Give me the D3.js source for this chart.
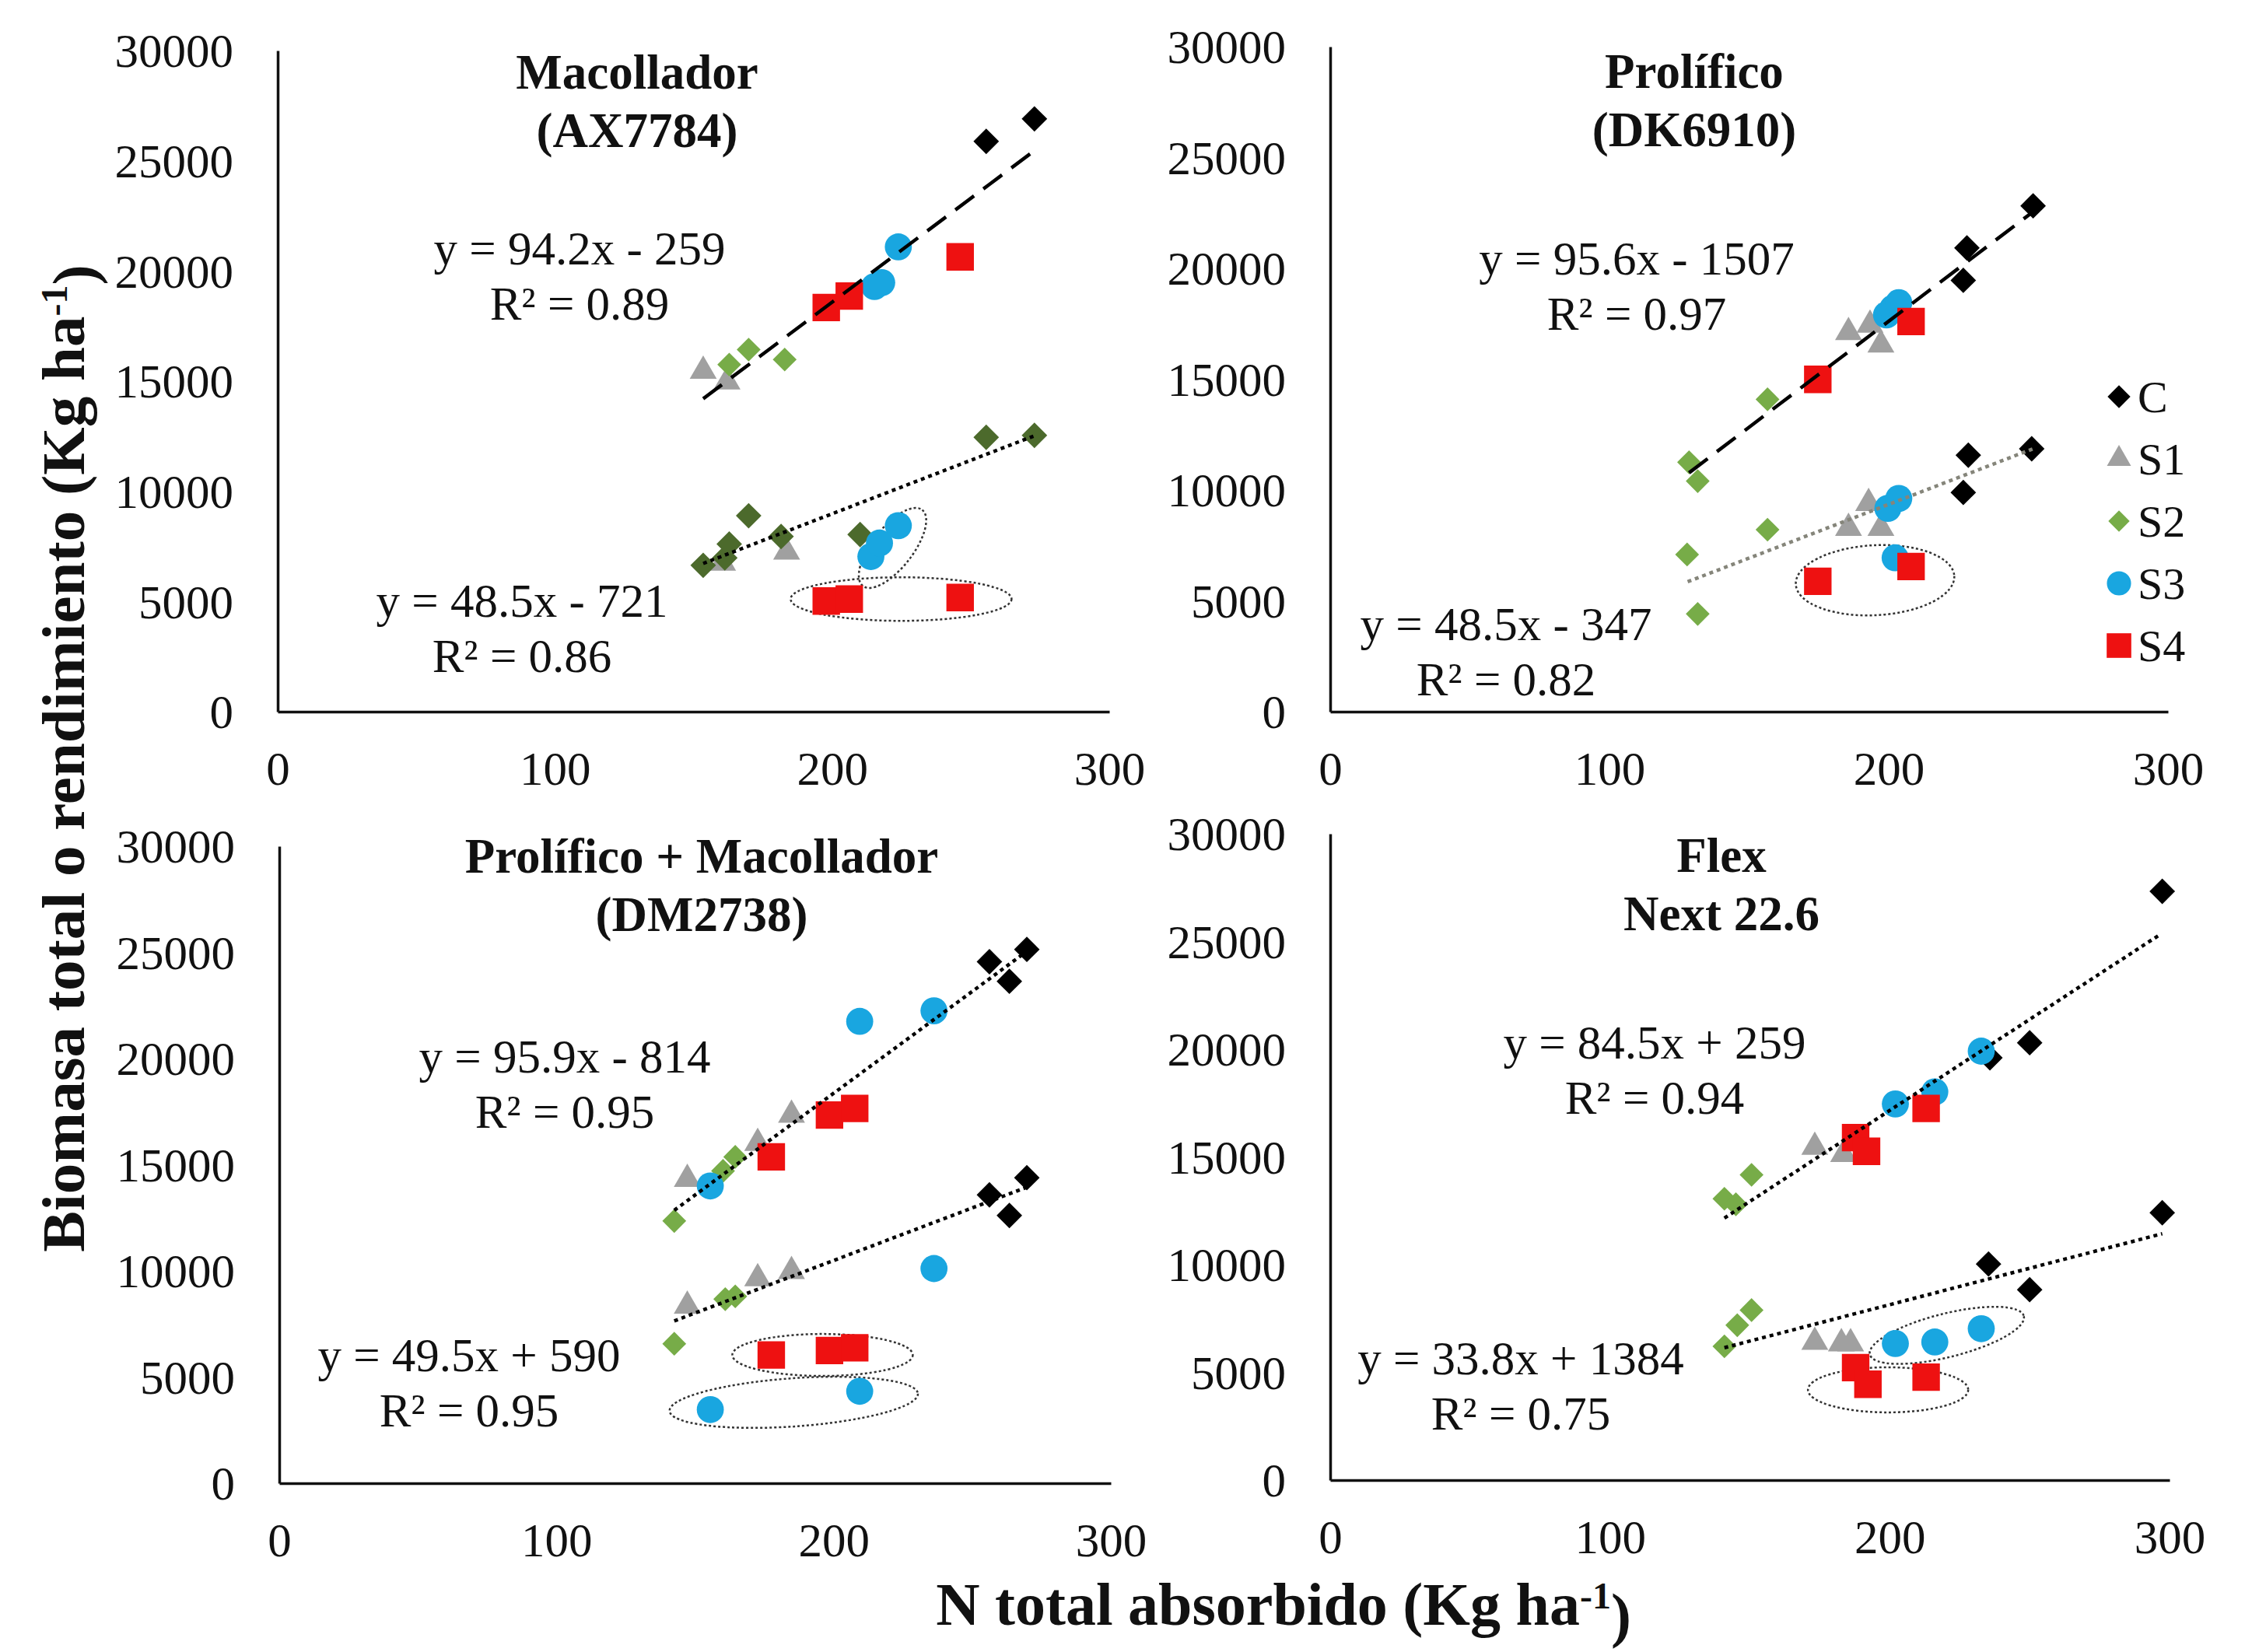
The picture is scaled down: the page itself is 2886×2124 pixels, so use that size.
<!DOCTYPE html>
<html>
<head>
<meta charset="utf-8">
<script src="https://cdn.jsdelivr.net/npm/d3@7"></script>
<style>
  body { margin: 0; background: #fff; }
  text { font-family: "Liberation Serif", "Times New Roman", serif; fill: #111; }
</style>
</head>
<body>
<svg id="fig"></svg>
<script>
// ---- data ----
const xTicks = [0, 100, 200, 300];
const yTicks = [0, 5000, 10000, 15000, 20000, 25000, 30000];
const legendKeys = ["C", "S1", "S2", "S3", "S4"];

const titles = [
  ["Macollador", "(AX7784)"],
  ["Prolífico", "(DK6910)"],
  ["Prolífico + Macollador", "(DM2738)"],
  ["Flex", "Next 22.6"]
];

// upper cloud = biomasa total, lower cloud = rendimiento
const macolladorBiomasa = [
  {s:"S1", x:153.5, y:15460}, {s:"S1", x:162.1, y:14970},
  {s:"S2", x:162.9, y:15750}, {s:"S2", x:169.9, y:16430}, {s:"S2", x:182.9, y:15980},
  {s:"S3", x:215.3, y:19290}, {s:"S3", x:217.9, y:19470}, {s:"S3", x:223.9, y:21090},
  {s:"S4", x:197.9, y:18340}, {s:"S4", x:206.2, y:18860}, {s:"S4", x:246.2, y:20640},
  {s:"C", x:255.6, y:25880}, {s:"C", x:273.0, y:26900}
];
const macolladorRend = [
  {s:"S1", x:160.5, y:6750}, {s:"S1", x:183.6, y:7250},
  {s:"D", x:153.5, y:6640}, {s:"D", x:161.3, y:6980}, {s:"D", x:162.9, y:7610},
  {s:"D", x:169.9, y:8890}, {s:"D", x:181.6, y:7950}, {s:"D", x:210.1, y:8040},
  {s:"D", x:255.6, y:12450}, {s:"D", x:273.0, y:12540},
  {s:"S3", x:214.0, y:7040}, {s:"S3", x:217.1, y:7650}, {s:"S3", x:223.9, y:8440},
  {s:"S4", x:197.9, y:5020}, {s:"S4", x:206.2, y:5110}, {s:"S4", x:246.2, y:5180}
];
const prolificoBiomasa = [
  {s:"C", x:251.7, y:22820}, {s:"C", x:228.0, y:20920}, {s:"C", x:226.7, y:19460},
  {s:"S1", x:185.6, y:17110}, {s:"S1", x:193.3, y:17450}, {s:"S1", x:197.2, y:16550},
  {s:"S2", x:156.6, y:14090}, {s:"S2", x:128.5, y:11250}, {s:"S2", x:131.6, y:10400},
  {s:"S3", x:199.2, y:17900}, {s:"S3", x:201.5, y:18200}, {s:"S3", x:203.6, y:18450},
  {s:"S4", x:208.0, y:17600}, {s:"S4", x:174.6, y:14990}
];
const prolificoRend = [
  {s:"C", x:228.5, y:11570}, {s:"C", x:251.2, y:11860}, {s:"C", x:226.7, y:9890},
  {s:"S1", x:185.6, y:8280}, {s:"S1", x:192.8, y:9400}, {s:"S1", x:197.2, y:8280},
  {s:"S2", x:127.8, y:7090}, {s:"S2", x:156.6, y:8210}, {s:"S2", x:131.6, y:4410},
  {s:"S3", x:199.7, y:9170}, {s:"S3", x:203.6, y:9620}, {s:"S3", x:202.3, y:6940},
  {s:"S4", x:174.6, y:5880}, {s:"S4", x:208.0, y:6550}
];
const mixtoBiomasa = [
  {s:"C", x:256.2, y:24560}, {s:"C", x:269.7, y:25140}, {s:"C", x:263.4, y:23640},
  {s:"S1", x:147.2, y:14320}, {s:"S1", x:172.6, y:16020}, {s:"S1", x:184.8, y:17340},
  {s:"S2", x:142.5, y:12350}, {s:"S2", x:160.1, y:14710}, {s:"S2", x:164.5, y:15370},
  {s:"S3", x:155.5, y:14000}, {s:"S3", x:209.4, y:21750}, {s:"S3", x:236.2, y:22250},
  {s:"S4", x:177.5, y:15370}, {s:"S4", x:198.5, y:17340}, {s:"S4", x:207.6, y:17650}
];
const mixtoRend = [
  {s:"C", x:256.2, y:13580}, {s:"C", x:269.7, y:14390}, {s:"C", x:263.4, y:12610},
  {s:"S1", x:147.2, y:8350}, {s:"S1", x:172.6, y:9640}, {s:"S1", x:184.8, y:9980},
  {s:"S2", x:142.5, y:6570}, {s:"S2", x:160.9, y:8670}, {s:"S2", x:164.5, y:8800},
  {s:"S3", x:155.5, y:3470}, {s:"S3", x:209.4, y:4330}, {s:"S3", x:236.2, y:10110},
  {s:"S4", x:177.5, y:6040}, {s:"S4", x:198.5, y:6250}, {s:"S4", x:207.6, y:6380}
];
const flexBiomasa = [
  {s:"C", x:297.4, y:27330}, {s:"C", x:250.0, y:20300}, {s:"C", x:235.8, y:19600},
  {s:"S1", x:173.2, y:15460}, {s:"S1", x:183.5, y:15130},
  {s:"S2", x:150.6, y:14170}, {s:"S2", x:140.9, y:13060}, {s:"S2", x:145.0, y:12800},
  {s:"S3", x:202.0, y:17460}, {s:"S3", x:216.1, y:18020}, {s:"S3", x:232.7, y:19910},
  {s:"S4", x:187.8, y:15900}, {s:"S4", x:191.7, y:15260}, {s:"S4", x:213.0, y:17250}
];
const flexRend = [
  {s:"C", x:297.4, y:12410}, {s:"C", x:235.3, y:10030}, {s:"C", x:250.0, y:8840},
  {s:"S1", x:173.2, y:6410}, {s:"S1", x:182.7, y:6340}, {s:"S1", x:186.0, y:6340},
  {s:"S2", x:140.9, y:6210}, {s:"S2", x:145.5, y:7190}, {s:"S2", x:150.6, y:7890},
  {s:"S3", x:202.0, y:6340}, {s:"S3", x:216.1, y:6410}, {s:"S3", x:232.7, y:7030},
  {s:"S4", x:187.8, y:5220}, {s:"S4", x:192.2, y:4450}, {s:"S4", x:213.0, y:4780}
];

// fitted lines: slope, intercept, x range, label
const fitsUpper = [
  {m:94.2, b:-259,  x0:153.5, x1:273.5, eq:"y = 94.2x - 259",  r2:"R² = 0.89"},
  {m:95.6, b:-1507, x0:128.5, x1:251.7, eq:"y = 95.6x - 1507", r2:"R² = 0.97"},
  {m:95.9, b:-814,  x0:142.5, x1:269.7, eq:"y = 95.9x - 814",  r2:"R² = 0.95"},
  {m:84.5, b:259,   x0:140.9, x1:296.0, eq:"y = 84.5x + 259",  r2:"R² = 0.94"}
];
const fitsLower = [
  {m:48.5, b:-721,  x0:153.5, x1:273.0, eq:"y = 48.5x - 721",  r2:"R² = 0.86"},
  {m:48.5, b:-347,  x0:128.0, x1:251.5, eq:"y = 48.5x - 347",  r2:"R² = 0.82"},
  {m:49.5, b:590,   x0:142.5, x1:269.7, eq:"y = 49.5x + 590",  r2:"R² = 0.95"},
  {m:33.8, b:1384,  x0:140.9, x1:297.4, eq:"y = 33.8x + 1384", r2:"R² = 0.75"}
];

// circled groups (centre in data units)
const circled = [
  [{x:221.8, y:7430}, {x:224.9, y:5110}],
  [{x:195.1, y:5930}],
  [{x:196.0, y:6040}, {x:185.6, y:3810}],
  [{x:220.4, y:6720}, {x:199.4, y:4190}]
];

// ---- layout ----
const W = 2886, H = 2124;
const frames = [
  {l:357,  r:1426, b:915,  t:65},
  {l:1710, r:2787, b:915,  t:60},
  {l:359,  r:1428, b:1907, t:1088},
  {l:1710, r:2789, b:1903, t:1072}
];
const titlePos = [[819, 92], [2178, 91], [902, 1100], [2213, 1099]];
const eqUpperPos = [[745, 319], [2104, 332], [726, 1358], [2127, 1340]];
const eqLowerPos = [[671, 772], [1936, 802], [603, 1742], [1955, 1746]];
const ringSize = [
  [{rx:62, ry:26, a:-52}, {rx:142, ry:28, a:0}],
  [{rx:102, ry:45, a:-3}],
  [{rx:116, ry:27, a:0}, {rx:160, ry:31, a:-4}],
  [{rx:102, ry:28, a:-14}, {rx:103, ry:29, a:0}]
];
const lineStyle = [
  [{dash:"30,15", col:"#000"}, {dash:"5,5", col:"#000"}],
  [{dash:"30,15", col:"#000"}, {dash:"5,5", col:"#85857a"}],
  [{dash:"5,5", col:"#000"}, {dash:"5,5", col:"#000"}],
  [{dash:"5,5", col:"#000"}, {dash:"5,5", col:"#000"}]
];

const markStyle = {
  C:  {shape:"diamond", fill:"#000000", size:540},
  S1: {shape:"triangle", fill:"#a0a0a0", size:520},
  S2: {shape:"diamond", fill:"#77ac48", size:470},
  S3: {shape:"circle", fill:"#19a6e0", size:950},
  S4: {shape:"square", fill:"#ee1111", size:1250},
  D:  {shape:"diamond", fill:"#4c6a2c", size:540}
};
const drawOrder = {S1:0, D:1, C:1, S2:2, S3:3, S4:4};

const panelData = [
  [macolladorBiomasa, macolladorRend],
  [prolificoBiomasa, prolificoRend],
  [mixtoBiomasa, mixtoRend],
  [flexBiomasa, flexRend]
];

const svg = d3.select("#fig").attr("width", W).attr("height", H);
svg.append("rect").attr("width", W).attr("height", H).attr("fill", "#fff");

var symbolPath = function(st){
  var type = st.shape == "circle" ? d3.symbolCircle
    : st.shape == "triangle" ? d3.symbolTriangle : d3.symbolSquare;
  return d3.symbol().type(type).size(st.size)();
};

var drawMarks = function(g, pts, x, y){
  var sorted = pts.slice().sort(function(a, b){ return drawOrder[a.s] - drawOrder[b.s]; });
  g.selectAll(null).data(sorted).enter().append("path")
    .attr("d", function(d){ return symbolPath(markStyle[d.s]); })
    .attr("fill", function(d){ return markStyle[d.s].fill; })
    .attr("transform", function(d){
      var rot = markStyle[d.s].shape == "diamond" ? " rotate(45)" : "";
      return "translate(" + x(d.x) + "," + y(d.y) + ")" + rot;
    });
};

frames.forEach(function(f, i){
  var x = d3.scaleLinear().domain([0, 300]).range([f.l, f.r]);
  var y = d3.scaleLinear().domain([0, 30000]).range([f.b, f.t]);
  var g = svg.append("g");

  // axes: only the two lines, no tick marks
  var ax = g.append("g").attr("transform", "translate(0," + f.b + ")")
    .call(d3.axisBottom(x).tickValues(xTicks).tickSize(0).tickPadding(51).tickFormat(d3.format("d")));
  var ay = g.append("g").attr("transform", "translate(" + f.l + ",0)")
    .call(d3.axisLeft(y).tickValues(yTicks).tickSize(0).tickPadding(57).tickFormat(d3.format("d")));
  [ax, ay].forEach(function(a){
    a.select(".domain").attr("stroke", "#111").attr("stroke-width", 3.5);
    a.selectAll("text").attr("font-size", 61).attr("fill", "#111")
      .attr("font-family", "Liberation Serif");
  });
  ay.selectAll("text").attr("dy", "0.34em");

  // circled groups
  circled[i].forEach(function(c, k){
    var rs = ringSize[i][k];
    g.append("ellipse")
      .attr("cx", 0).attr("cy", 0).attr("rx", rs.rx).attr("ry", rs.ry)
      .attr("transform", "translate(" + x(c.x) + "," + y(c.y) + ") rotate(" + rs.a + ")")
      .attr("fill", "none").attr("stroke", "#333").attr("stroke-width", 2.5)
      .attr("stroke-dasharray", "3,3");
  });

  // markers
  drawMarks(g, panelData[i][0], x, y);
  drawMarks(g, panelData[i][1], x, y);

  // trend lines
  [fitsUpper[i], fitsLower[i]].forEach(function(ft, k){
    var ls = lineStyle[i][k];
    g.append("line")
      .attr("x1", x(ft.x0)).attr("y1", y(ft.m * ft.x0 + ft.b))
      .attr("x2", x(ft.x1)).attr("y2", y(ft.m * ft.x1 + ft.b))
      .attr("stroke", ls.col).attr("stroke-width", 4.5)
      .attr("stroke-dasharray", ls.dash);
  });

  // equations
  [[fitsUpper[i], eqUpperPos[i]], [fitsLower[i], eqLowerPos[i]]].forEach(function(pair){
    var ft = pair[0], p = pair[1];
    g.append("text").attr("x", p[0]).attr("y", p[1]).attr("dy", "0.35em")
      .attr("text-anchor", "middle").attr("font-size", 61).text(ft.eq);
    g.append("text").attr("x", p[0]).attr("y", p[1] + 71).attr("dy", "0.35em")
      .attr("text-anchor", "middle").attr("font-size", 61).text(ft.r2);
  });

  // panel title
  titles[i].forEach(function(t, k){
    g.append("text").attr("x", titlePos[i][0]).attr("y", titlePos[i][1] + k * 75)
      .attr("dy", "0.35em").attr("text-anchor", "middle")
      .attr("font-size", 63).attr("font-weight", "bold").text(t);
  });
});

// legend (inside panel 2)
var legend = svg.append("g").attr("transform", "translate(2724,510)");
legendKeys.forEach(function(k, i){
  var st = markStyle[k];
  var rot = st.shape == "diamond" ? " rotate(45)" : "";
  var sz = Object.assign({}, st, {size: st.size * 0.8});
  legend.append("path").attr("d", symbolPath(sz)).attr("fill", st.fill)
    .attr("transform", "translate(0," + (i * 80) + ")" + rot);
  legend.append("text").attr("x", 24).attr("y", i * 80).attr("dy", "0.35em")
    .attr("font-size", 58).text(k);
});

// axis titles
var yt = svg.append("text")
  .attr("transform", "translate(80,975) rotate(-90)")
  .attr("text-anchor", "middle").attr("dy", "0.35em")
  .attr("font-size", 79).attr("font-weight", "bold");
yt.append("tspan").text("Biomasa total o rendimiento (Kg ha");
yt.append("tspan").attr("dy", "-0.45em").attr("font-size", 48).text("-1");
yt.append("tspan").attr("dy", "0.45em").text(")");

var xt = svg.append("text")
  .attr("x", 1650).attr("y", 2062)
  .attr("text-anchor", "middle").attr("dy", "0.35em")
  .attr("font-size", 78).attr("font-weight", "bold");
xt.append("tspan").text("N total absorbido (Kg ha");
xt.append("tspan").attr("dy", "-0.45em").attr("font-size", 48).text("-1");
xt.append("tspan").attr("dy", "0.45em").text(")");
</script>
</body>
</html>
